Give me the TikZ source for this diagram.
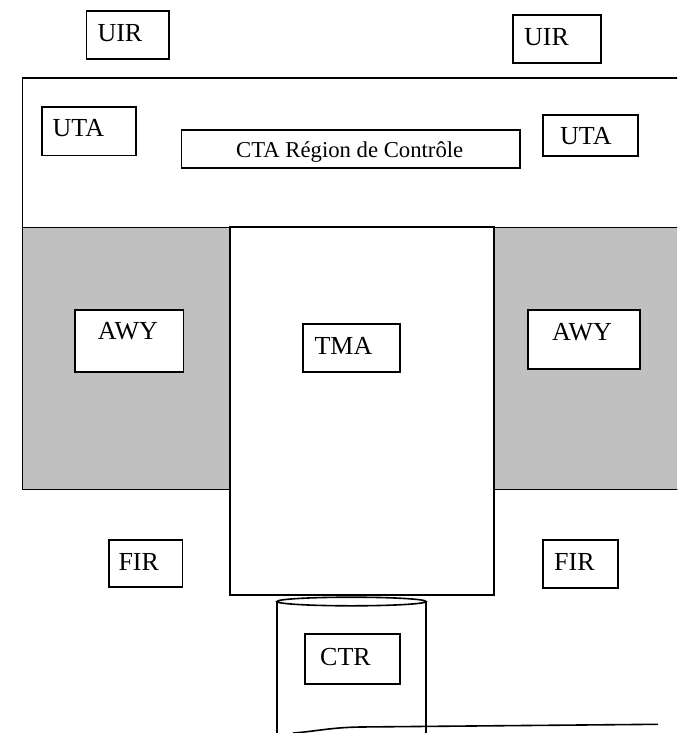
\documentclass[tikz,border=0pt]{standalone}
\usepackage{fontspec}
\setmainfont{Liberation Serif}
\definecolor{zonegrey}{HTML}{C0C0C0}
\tikzset{
  frame/.style={draw=black, line width=1.6pt, fill=white},
  greyzone/.style={draw=black, line width=1pt, fill=zonegrey},
  lbl/.style={anchor=base west, inner sep=0pt, font=\fontsize{26}{29}\selectfont},
  ctalbl/.style={anchor=base west, inner sep=0pt, font=\fontsize{22.7}{26}\selectfont},
  boxnode/.style={draw=black, line width=1.6pt, fill=white, inner sep=0pt, anchor=north west}
}
\newcommand{\bx}[5]{% name, x1, y1, x2, y2
  \node[boxnode, minimum width={(#4-#2)*1pt}, minimum height={(#5-#3)*1pt}] (#1) at (#2,#3) {};}
\begin{document}
\begin{tikzpicture}[x=1pt, y=-1pt]
\useasboundingbox (0,0) rectangle (677,733);
\clip (0,0) rectangle (677,733);
\fill[white] (0,0) rectangle (677,733);
% big control region
\draw[frame] (22.5,78) rectangle (700,489);
\draw[greyzone] (22.5,227) rectangle (230,489);
\draw[greyzone] (494,227) rectangle (700,489);
% TMA
\draw[frame] (230,227) rectangle (494,595);
% CTR cylinder
\draw[line width=1.6pt, fill=white] (277,601.5) -- (277,745) -- (426,745) -- (426,601.5);
\draw[line width=1.6pt, fill=white] (351.5,601.5) ellipse [x radius=74.5pt, y radius=4.3pt];
% boxes
\bx{uira}{85.7}{10}{168.3}{58.3}
\bx{uirb}{512}{14}{600}{62.5}
\bx{utaa}{41}{106.5}{135}{154.5}
\bx{cta}{180.7}{129}{519}{167}
\bx{utab}{542}{114}{637}{155}
\bx{awya}{74}{309}{182.7}{371}
\bx{tmab}{302}{323}{399}{371}
\bx{awyb}{527}{309}{639}{368}
\bx{fira}{108.3}{539}{181.7}{586}
\bx{firb}{542}{539}{617}{587}
\bx{ctr}{304}{633}{399}{683}
% labels
\node[lbl] (tuira) at (97.3,41.7) {UIR};
\node[lbl] (tuirb) at (524,45.7) {UIR};
\node[lbl] (tutaa) at (52.5,136.5) {UTA};
\node[ctalbl] (tcta) at (236,157.3) {CTA Région de Contrôle};
\node[lbl] (tutab) at (560,144.3) {UTA};
\node[lbl] (tawya) at (97.7,339.3) {AWY};
\node[lbl] (ttma) at (314.3,354) {TMA};
\node[lbl] (tawyb) at (551.8,340) {AWY};
\node[lbl] (tfira) at (118.3,570) {FIR};
\node[lbl] (tfirb) at (554,570) {FIR};
\node[lbl] (tctr) at (320,665) {CTR};
% bottom line
\coordinate (ls) at (293,733);
\coordinate (lm) at (360,727);
\coordinate (le) at (658,724.3);
\draw[line width=1.6pt] (ls) .. controls (315,731.5) and (330,727.5) .. (lm) -- (le);
\end{tikzpicture}
\end{document}
